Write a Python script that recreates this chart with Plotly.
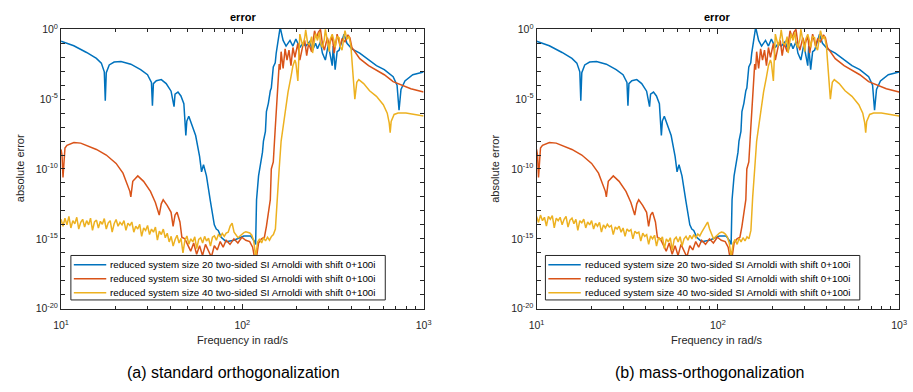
import plotly.graph_objects as go

# ---------------- data ----------------
legend_names = [
    "reduced system size 20 two-sided SI Arnoldi with shift 0+100i",
    "reduced system size 30 two-sided SI Arnoldi with shift 0+100i",
    "reduced system size 40 two-sided SI Arnoldi with shift 0+100i",
]
x_tick_vals = [10, 100, 1000]
x_tick_text = ["10<sup>1</sup>", "10<sup>2</sup>", "10<sup>3</sup>"]
x_minor_vals = [20, 30, 40, 50, 60, 70, 80, 90, 200, 300, 400, 500, 600, 700, 800, 900]
y_tick_vals = [1e-20, 1e-15, 1e-10, 1e-5, 1e0]
y_tick_text = ["10<sup>-20</sup>", "10<sup>-15</sup>", "10<sup>-10</sup>", "10<sup>-5</sup>", "10<sup>0</sup>"]
y_minor_vals = [1e-19, 1e-18, 1e-17, 1e-16, 1e-14, 1e-13, 1e-12, 1e-11,
                1e-9, 1e-8, 1e-7, 1e-6, 1e-4, 1e-3, 1e-2, 1e-1]
panel_titles = ["error", "error"]
captions = ["(a) standard orthogonalization", "(b) mass-orthogonalization"]
x_label = "Frequency in rad/s"
y_label = "absolute error"

# size 20 (blue)
freq20 = [10.0, 11.76, 13.83, 15.67, 16.68, 17.32, 17.54, 17.76, 18.44, 19.62, 21.41, 24.26,
          27.48, 29.99, 31.52, 31.92, 32.32, 33.55, 35.72, 38.02, 40.46, 42.01, 42.54, 44.16,
          45.84, 47.59, 48.80, 49.41, 50.66, 52.6, 55.27, 58.1, 59.57, 61.08, 63.41, 66.65,
          70.06, 71.84, 73.64, 76.46, 81.4, 89.9, 101.9, 111.2, 116.9, 118.4, 119.8, 122.9,
          126.0, 129.2, 130.8, 134.1, 135.8, 139.2, 142.7, 144.5, 148.2, 151.9, 153.8, 157.7,
          161.7, 167.9, 174.3, 183.2, 190.2, 197.4, 207.6, 215.4, 223.7, 235.1, 244.1, 253.4,
          259.8, 269.8, 276.5, 287.1, 298.1, 313.3, 317.2, 325.2, 333.4, 341.9, 354.9, 363.9,
          377.8, 402.2, 444.4, 497.2, 549.5, 607.0, 679.2, 714.0, 732.1, 750.5, 788.9, 871.8, 1000.0]
err20 = [1.4e-1, 6.6e-2, 2.2e-2, 8.3e-3, 3.8e-3, 9.1e-4, 7.6e-6, 7.9e-4, 2.8e-3, 4.5e-3, 5.0e-3, 3.2e-3,
         1.3e-3, 5.6e-4, 1.6e-4, 3.4e-6, 1.3e-4, 2.1e-4, 2.5e-4, 1.3e-4, 3.7e-5, 2.9e-6, 2.3e-5, 3.2e-5,
         1.7e-5, 4.7e-6, 2.5e-8, 2.7e-7, 5.9e-7, 1.6e-7, 2.5e-8, 7.9e-10, 6.3e-11, 2.0e-10, 3.2e-11, 5.0e-13,
         1.0e-14, 5.0e-15, 4.0e-15, 1.3e-15, 6.3e-16, 7.9e-16, 1.6e-15, 1.6e-15, 6.3e-16, 4.0e-16, 6.3e-13, 3.2e-11,
         2.0e-10, 1.6e-9, 1.0e-8, 5.0e-8, 1.3e-6, 5.0e-6, 4.0e-5, 6.3e-5, 2.0e-3, 4.0e-3, 2.0e-2, 2.5e-1,
         1.4, 1.6e-1, 6.3e-2, 1.6e-1, 6.3e-2, 2.0e-1, 5.0e-2, 1.0e-1, 6.3e-2, 1.3e-1, 3.2e-2, 1.0e-1,
         4.0e-2, 1.3e-1, 2.0e-2, 6.3e-3, 7.9e-2, 2.5e-3, 6.3e-2, 1.3e-3, 2.5e-2, 3.2e-2, 1.6e-1, 4.5e-1,
         1.0e-1, 4.0e-2, 2.0e-2, 6.3e-3, 2.5e-3, 1.3e-3, 4.0e-4, 1.0e-4, 1.6e-6, 5.0e-5, 2.0e-4, 5.6e-4, 8.9e-4]

# size 30 (red)
freq30 = [10.0, 10.12, 10.25, 10.38, 10.51, 10.78, 11.77, 12.83, 13.83, 15.67, 17.76, 20.12,
          21.96, 23.37, 23.96, 24.26, 24.87, 26.5, 28.53, 31.13, 33.14, 34.8, 35.72, 36.6,
          38.49, 40.46, 41.5, 42.54, 43.64, 45.27, 46.4, 48.2, 50.0, 51.9, 53.9, 55.98,
          58.1, 60.32, 62.62, 65.01, 67.49, 70.06, 72.74, 75.51, 78.39, 81.4, 85.54, 89.9,
          94.5, 99.4, 104.5, 109.8, 114.0, 118.4, 122.9, 127.6, 132.4, 135.8, 139.2, 142.7,
          144.5, 148.2, 151.9, 153.8, 155.7, 157.7, 159.7, 161.7, 163.7, 167.9, 172.2, 176.4,
          180.9, 185.5, 190.2, 195.0, 202.5, 207.6, 215.4, 220.9, 226.5, 232.2, 241.1, 250.3,
          256.6, 263.0, 269.8, 276.5, 283.5, 294.4, 301.8, 313.3, 321.2, 333.4, 346.2, 354.9,
          368.5, 382.6, 392.3, 402.2, 412.4, 444.4, 497.2, 549.5, 607.0, 679.2, 741.3, 850.3, 1000.0]
err30 = [2.5e-9, 1.0e-9, 2.5e-11, 1.0e-9, 3.2e-9, 5.0e-9, 7.9e-9, 7.1e-9, 5.0e-9, 2.5e-9, 1.0e-9, 2.5e-10,
         5.0e-11, 6.3e-12, 2.5e-12, 1.0e-12, 1.3e-11, 3.2e-11, 1.3e-11, 2.5e-12, 4.0e-13, 5.0e-14, 3.2e-13, 6.3e-13,
         2.5e-13, 7.9e-14, 7.9e-15, 5.0e-14, 7.9e-14, 1.6e-14, 1.3e-15, 1.0e-15, 4.0e-16, 1.3e-16, 5.0e-16, 7.9e-17,
         3.2e-16, 6.3e-17, 4.0e-16, 1.3e-16, 5.0e-17, 3.2e-16, 1.6e-16, 6.3e-16, 2.5e-16, 7.9e-16, 4.0e-16, 1.0e-15,
         5.0e-16, 1.3e-15, 7.9e-16, 6.3e-16, 2.5e-16, 1.6e-17, 5.0e-16, 1.0e-15, 1.3e-15, 7.9e-15, 1.0e-13, 6.3e-13,
         1.0e-10, 3.2e-10, 7.9e-8, 2.0e-6, 2.5e-5, 2.5e-4, 3.2e-3, 1.3e-3, 2.5e-2, 1.6e-3, 4.0e-2, 6.3e-3,
         3.2e-2, 2.5e-3, 5.0e-2, 1.0e-2, 1.0e-1, 6.3e-3, 6.3e-2, 1.6e-1, 1.3e-2, 1.0e-1, 2.5e-2, 7.9e-1,
         2.5e-1, 6.3e-1, 1.0, 1.0e-1, 3.2e-2, 2.5e-1, 7.9e-2, 3.2e-1, 2.0e-2, 4.5e-1, 6.3e-2, 2.0e-1,
         1.3e-1, 4.0e-1, 2.5e-1, 5.0e-2, 3.2e-2, 7.9e-3, 2.5e-3, 1.1e-3, 5.6e-4, 1.8e-4, 1.1e-4, 5.6e-5, 3.2e-5]

# size 40 (yellow): low-frequency noise floor, panel (a) and panel (b)
freq40_floor = [10.00, 10.25, 10.51, 10.78, 11.05, 11.33, 11.62, 11.91, 12.21, 12.52, 12.84, 13.16,
                13.49, 13.84, 14.19, 14.54, 14.91, 15.29, 15.68, 16.07, 16.48, 16.89, 17.32, 17.76,
                18.21, 18.67, 19.14, 19.63, 20.12, 20.63, 21.15, 21.69, 22.24, 22.80, 23.38, 23.97,
                24.57, 25.20, 25.83, 26.49, 27.16, 27.84, 28.55, 29.27, 30.01, 30.77, 31.55, 32.35,
                33.16, 34.00, 34.86, 35.75, 36.65, 37.58, 38.53, 39.50, 40.50, 41.53, 42.58, 43.65,
                44.76, 45.89, 47.05, 48.24, 49.46, 50.71, 51.99, 53.31, 54.66, 56.04, 57.46, 58.91,
                60.40, 61.93, 63.49, 65.10, 66.74, 68.43, 70.16, 71.93, 73.75, 75.62, 77.53, 79.49,
                81.50, 83.56, 85.67, 87.84, 90.06, 92.34, 94.67, 97.07, 99.52, 102.0, 104.6, 107.3,
                110.0, 112.8, 115.6, 118.5, 121.5, 124.6, 127.8, 131.0, 134.3, 137.7, 141.2, 144.8,
                148.4, 152.2]
err40_floor_a = [2.5e-14, 8e-15, 3e-14, 1e-14, 4e-14, 6e-15, 2e-14, 1.2e-14, 3.5e-14, 5e-15, 1.5e-14, 2.5e-14,
                 7e-15, 2e-14, 1e-14, 3e-14, 4e-15, 1.6e-14, 2.2e-14, 6e-15, 1.8e-14, 1.1e-14, 2.8e-14, 5e-15,
                 1.4e-14, 2e-14, 3e-15, 1.2e-14, 2.4e-14, 8e-15, 1.5e-14, 1e-14, 2e-14, 4e-15, 1.3e-14, 9e-15,
                 1.6e-14, 3e-15, 8e-15, 5e-15, 1.1e-14, 1.5e-15, 6e-15, 4e-15, 9e-15, 2e-15, 5e-15, 3e-15,
                 7e-15, 8e-16, 3.5e-15, 2e-15, 5e-15, 1.2e-15, 2.5e-15, 6e-16, 1.5e-15, 3e-16, 9e-16, 1.8e-15,
                 5e-16, 1.1e-15, 1e-16, 8e-16, 1.6e-15, 4e-16, 1e-15, 6e-16, 1.4e-15, 2e-16, 9e-16, 1.2e-15,
                 5e-16, 1.5e-15, 7e-16, 1.1e-15, 3e-16, 1.3e-15, 1.6e-15, 8e-16, 2e-15, 1.4e-15, 2.4e-15, 1.5e-15,
                 2.6e-15, 3e-15, 8e-15, 1.3e-14, 3e-15, 2e-15, 1.2e-15, 1.6e-15, 2.2e-15, 2.8e-15, 3.2e-15, 3e-15,
                 2.6e-15, 1.8e-15, 7e-16, 5e-17, 6e-16, 1e-15, 5e-16, 1.2e-15, 7e-16, 1.3e-15, 8e-16, 1.5e-15,
                 2e-15, 5e-15]
err40_floor_b = [4e-14, 1.5e-14, 5e-14, 2e-14, 3.5e-14, 8e-15, 4e-14, 2.5e-14, 4.5e-14, 6e-15, 3e-14, 2e-14,
                 3.5e-14, 1e-14, 2.5e-14, 4e-14, 7e-15, 2.2e-14, 3e-14, 1.2e-14, 2.5e-14, 4e-15, 2e-14, 1.4e-14,
                 2.6e-14, 6e-15, 1.6e-14, 1e-14, 2e-14, 5e-15, 1.3e-14, 8e-15, 1.5e-14, 3e-15, 1e-14, 6e-15,
                 1.1e-14, 7e-15, 9e-15, 2e-15, 7e-15, 5e-15, 8e-15, 3e-15, 6e-15, 1.5e-15, 5e-15, 3.5e-15,
                 4.5e-15, 1e-15, 3.5e-15, 2.5e-15, 3e-15, 7e-16, 2.5e-15, 1.5e-15, 2e-15, 4e-16, 1.6e-15, 1e-15,
                 1.8e-15, 3e-16, 1.2e-15, 8e-16, 1.4e-15, 2e-16, 1e-15, 6e-16, 1.2e-15, 1.5e-16, 9e-16, 1.3e-15,
                 6e-16, 1.4e-15, 3e-16, 1e-15, 1.5e-15, 8e-16, 1.8e-15, 1e-15, 2e-15, 1.2e-15, 2.2e-15, 1.6e-15,
                 3e-15, 5e-15, 1e-14, 1.6e-14, 5e-15, 2e-15, 1e-15, 1.4e-15, 2e-15, 2.6e-15, 3e-15, 2.8e-15,
                 2.2e-15, 1.4e-15, 5e-16, 5e-17, 5e-16, 9e-16, 4e-16, 1.1e-15, 6e-16, 1.2e-15, 7e-16, 1.4e-15,
                 1e-15, 4e-15]
# size 40 (yellow): rise, oscillating band and high-frequency tail (both panels)
freq40_upper = [155.7, 157.7, 159.7, 163.7, 167.9, 172.2, 178.7, 185.5, 190.2, 195.0, 197.4, 202.5,
                207.6, 215.4, 220.9, 223.7, 229.3, 235.1, 241.1, 244.1, 250.3, 253.4, 259.8, 266.4,
                269.8, 276.5, 283.5, 287.1, 294.4, 301.8, 305.6, 313.3, 321.2, 325.2, 333.4, 341.9,
                346.2, 354.9, 363.9, 368.5, 377.8, 387.4, 397.2, 407.3, 417.6, 428.1, 438.9, 467.1,
                503.4, 549.5, 599.5, 630.2, 646.1, 654.2, 662.4, 687.8, 723.0, 798.9, 905.0, 1000.0]
err40_upper = [1e-12, 3e-11, 1e-10, 1e-8, 1e-7, 1.3e-6, 3.2e-5, 4e-4, 2.5e-3, 6.3e-3, 4e-3, 2e-4,
               4.5e-1, 6.3e-2, 2.5e-1, 9e-1, 1e-1, 8e-2, 3e-1, 2e-2, 1.3e-1, 5e-1, 1.6e-1, 6.3e-1,
               1e-1, 5e-2, 2e-1, 1.0, 1.6e-1, 2.5e-2, 2e-1, 4.5e-1, 1.3e-1, 5e-2, 3e-1, 2.5e-1,
               6e-2, 3.2e-2, 3e-1, 8e-1, 2e-1, 3.2e-1, 6.3e-2, 1e-3, 1e-5, 1.6e-4, 2.5e-4, 1.3e-4,
               4e-5, 1.6e-5, 4e-6, 1e-6, 2e-7, 4e-8, 2.5e-7, 8e-7, 1e-6, 1e-6, 8e-7, 6.3e-7]

# ---------------- styling ----------------
COLORS = ["#0072BD", "#D95319", "#EDB120"]
AX = "#262626"
FONT = "Liberation Sans, Arial, sans-serif"
W, H = 913, 392

panels = [
    dict(xdom=[54 / W, 423 / W], xa="x", ya="y", box_left=64,
         series=[(freq20, err20), (freq30, err30), (freq40_floor + freq40_upper, err40_floor_a + err40_upper)]),
    dict(xdom=[538 / W, 907 / W], xa="x2", ya="y2", box_left=547,
         series=[(freq20, err20), (freq30, err30), (freq40_floor + freq40_upper, err40_floor_b + err40_upper)]),
]

fig = go.Figure()
for p in panels:
    for k, (fx, ey) in enumerate(p["series"]):
        fig.add_trace(go.Scatter(
            x=fx, y=ey, mode="lines", name=legend_names[k],
            line=dict(color=COLORS[k], width=1.5),
            xaxis=p["xa"], yaxis=p["ya"], showlegend=False,
        ))

ydom = [1 - 312 / H, 1 - 22.5 / H]


def xaxis_cfg(dom, anchor):
    return dict(
        type="log", range=[1, 3], domain=dom, anchor=anchor,
        tickmode="array", tickvals=x_tick_vals, ticktext=x_tick_text,
        ticks="inside", ticklen=5, tickwidth=0.8, tickcolor=AX,
        ticklabelstandoff=7,
        minor=dict(tickmode="array", tickvals=x_minor_vals, ticks="inside",
                   ticklen=3, tickwidth=0.8, tickcolor=AX, showgrid=False),
        showline=True, linecolor=AX, linewidth=1, mirror="ticks",
        showgrid=False, zeroline=False,
        tickfont=dict(family=FONT, size=10.5, color=AX),
    )


def yaxis_cfg(anchor):
    return dict(
        type="log", range=[-20, 0.04], domain=ydom, anchor=anchor,
        tickmode="array", tickvals=y_tick_vals, ticktext=y_tick_text,
        ticks="inside", ticklen=4, tickwidth=0.8, tickcolor=AX,
        minor=dict(tickmode="array", tickvals=y_minor_vals, ticks="inside",
                   ticklen=4, tickwidth=0.8, tickcolor=AX, showgrid=False),
        showline=True, linecolor=AX, linewidth=1, mirror="ticks",
        showgrid=False, zeroline=False,
        tickfont=dict(family=FONT, size=10.5, color=AX),
    )


annotations = []
shapes = []
row_y = [266.5, 281, 295.5]
for i, (cx_title, cx_cap, cx_y) in enumerate([(239, 230, 13), (722, 714, 496)]):
    annotations.append(dict(text="<b>" + panel_titles[i] + "</b>", x=cx_title / W, y=1 - 10 / H,
                            xref="paper", yref="paper", showarrow=False, xanchor="center", yanchor="middle",
                            font=dict(family=FONT, size=11, color="black")))
    annotations.append(dict(text=x_label, x=cx_title / W, y=1 - 344 / H,
                            xref="paper", yref="paper", showarrow=False, xanchor="center", yanchor="middle",
                            font=dict(family=FONT, size=11, color=AX)))
    annotations.append(dict(text=y_label, x=cx_y / W, y=1 - 167 / H, textangle=-90,
                            xref="paper", yref="paper", showarrow=False, xanchor="center", yanchor="middle",
                            font=dict(family=FONT, size=11, color=AX)))
    annotations.append(dict(text=captions[i], x=cx_cap / W, y=1 - 378 / H,
                            xref="paper", yref="paper", showarrow=False, xanchor="center", yanchor="middle",
                            font=dict(family=FONT, size=16, color="black")))
    # legend box (drawn as layout decoration so its rows can be as tight as the reference)
    bl = panels[i]["box_left"]
    shapes.append(dict(type="rect", xref="paper", yref="paper", layer="above",
                       x0=bl / W, x1=(bl + 320) / W, y0=1 - 303 / H, y1=1 - 257 / H,
                       line=dict(color=AX, width=1), fillcolor="white"))
    for k in range(3):
        shapes.append(dict(type="line", xref="paper", yref="paper", layer="above",
                           x0=(bl + 3) / W, x1=(bl + 36) / W, y0=1 - row_y[k] / H, y1=1 - row_y[k] / H,
                           line=dict(color=COLORS[k], width=1.5)))
        annotations.append(dict(text=legend_names[k], x=(bl + 38) / W, y=1 - row_y[k] / H,
                                xref="paper", yref="paper", showarrow=False,
                                xanchor="left", yanchor="middle",
                                font=dict(family=FONT, size=9.8, color="black")))

fig.update_layout(
    width=W, height=H, margin=dict(l=0, r=0, t=0, b=0),
    paper_bgcolor="white", plot_bgcolor="white",
    xaxis=xaxis_cfg(panels[0]["xdom"], "y"),
    yaxis=yaxis_cfg("x"),
    xaxis2=xaxis_cfg(panels[1]["xdom"], "y2"),
    yaxis2=yaxis_cfg("x2"),
    annotations=annotations,
    shapes=shapes,
    showlegend=False,
)

fig.write_html("out.html")
